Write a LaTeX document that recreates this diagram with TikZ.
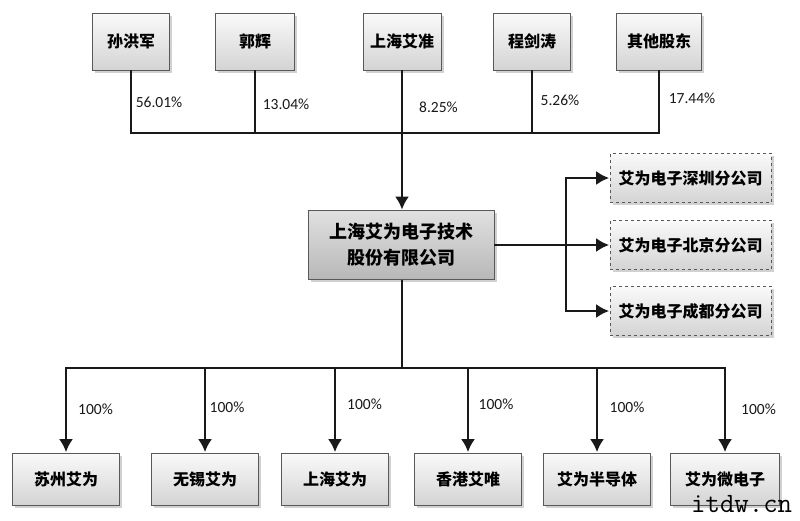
\documentclass[tikz,border=0pt]{standalone}
\usepackage{fontspec}
\setmainfont{Carlito}
\newfontfamily\cjk{Noto Sans CJK SC}
\usepackage{tikz}
\usetikzlibrary{positioning, calc}
\usetikzlibrary{arrows.meta, shadows}
\tikzstyle{plainbox}=[rectangle,draw=black!65,line width=0.9pt,top color=black!2,bottom color=black!17,font=\cjk\bfseries\fontsize{16}{20}\selectfont,inner sep=0pt,align=center,drop shadow={shadow xshift=2.5pt,shadow yshift=-2.5pt,fill=black,opacity=0.18}]
\tikzstyle{holderbox}=[plainbox,minimum width=78pt,minimum height=57pt]
\tikzstyle{subbox}=[plainbox,minimum width=107.5pt,minimum height=52pt]
\tikzstyle{branchbox}=[plainbox,dashed,minimum width=161pt,minimum height=49.5pt]
\tikzstyle{mainbox}=[plainbox,top color=black!12,bottom color=black!28,minimum width=186pt,minimum height=69pt,font=\cjk\bfseries\fontsize{18}{26}\selectfont]
\tikzstyle{pct}=[inner sep=0pt,font=\fontsize{15.5}{18}\selectfont,text=black!90]
\tikzstyle{busline}=[line width=2pt,black!90]
\tikzstyle{edgepath}=[busline,-{Latex[length=13pt,width=14pt]},shorten >=0.5pt]

\begin{document}
\begin{tikzpicture}[x=1pt,y=-1pt]
        \useasboundingbox (0,0) rectangle (800,520);
        % shareholders
        \node[holderbox,minimum width=77pt] (h1) at (131,41.5) {孙洪军};
        \node[holderbox,minimum width=79pt] (h2) at (255,41.5) {郭辉};
        \node[holderbox] (h3) at (402,41.5) {上海艾准};
        \node[holderbox,minimum width=77pt] (h4) at (532,41.5) {程剑涛};
        \node[holderbox,minimum width=85pt] (h5) at (659,41.5) {其他股东};
        \node[mainbox] (main) at (401,245) {上海艾为电子技术\\股份有限公司};
        % branches
        \node[branchbox] (b1) at (690.5,178) {艾为电子深圳分公司};
        \node[branchbox] (b2) at (690.5,245) {艾为电子北京分公司};
        \node[branchbox] (b3) at (690.5,311) {艾为电子成都分公司};
        % subsidiaries
        \node[subbox] (s1) at (66,479) {苏州艾为};
        \node[subbox] (s2) at (205,479) {无锡艾为};
        \node[subbox] (s3) at (335,479) {上海艾为};
        \node[subbox] (s4) at (468,479) {香港艾唯};
        \node[subbox] (s5) at (597,479) {艾为半导体};
        \node[subbox,minimum width=109pt] (s6) at (725,479) {艾为微电子};
        
        \coordinate (bustop) at (402,133);
        \coordinate (busbottom) at (402,368);
        \coordinate (fork) at (566,245);
        
        \draw[busline] (h1.south) |- (bustop);
        \draw[busline] (h2.south) |- (bustop);
        \draw[busline] (h4.south) |- (bustop);
        \draw[busline] (h5.south) |- (bustop);
        \draw[edgepath] (h3.south) -- (h3.south |- main.north);
        
        \draw[busline] (main.east) -- (fork);
        \foreach \i in {1,2,3}
            \draw[edgepath] (fork) |- (b\i.west);
        
        \draw[busline] (h3.south |- main.south) -- (busbottom);
        \foreach \i in {1,...,6}
            \draw[edgepath] (busbottom) -| (s\i.north);
        
        % shares
        \node[pct] (p1) at (159,102) {56.01\%};
        \node[pct] (p2) at (286,104) {13.04\%};
        \node[pct] (p3) at (438.5,107) {8.25\%};
        \node[pct] (p4) at (560,100) {5.26\%};
        \node[pct] (p5) at (692,98.5) {17.44\%};
        \node[pct] (q1) at (95.5,409) {100\%};
        \node[pct] (q2) at (227,407) {100\%};
        \node[pct] (q3) at (364.5,404) {100\%};
        \node[pct] (q4) at (496,404) {100\%};
        \node[pct] (q5) at (627,407) {100\%};
        \node[pct] (q6) at (758.5,409) {100\%};
        
        \node[anchor=base west,inner sep=0pt,font=\ttfamily\fontsize{28}{28}\selectfont] (mark) at (691,512) {itdw.cn};
    \end{tikzpicture}
\end{document}
